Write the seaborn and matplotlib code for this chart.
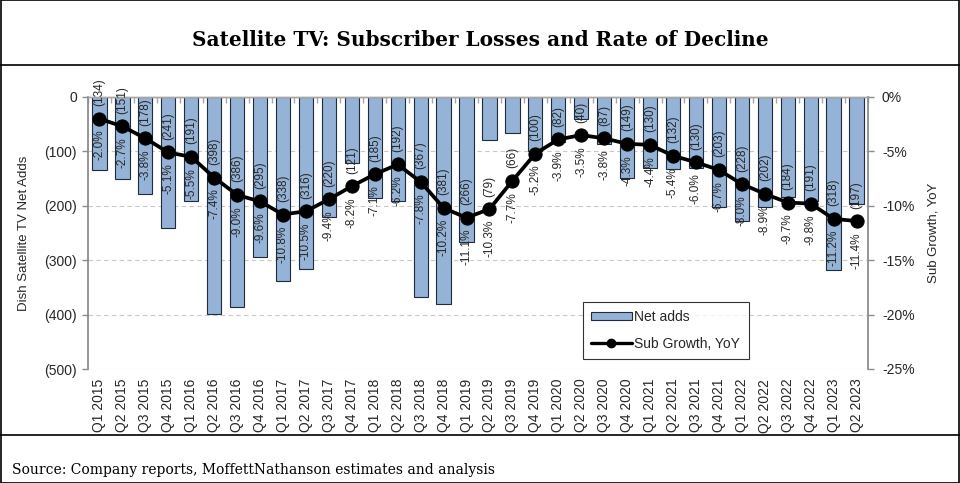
import numpy as np
import pandas as pd
import matplotlib
matplotlib.use("Agg")
import matplotlib.pyplot as plt
from matplotlib.patches import Patch, Rectangle
from matplotlib.lines import Line2D
from matplotlib.ticker import FuncFormatter, MultipleLocator
import seaborn as sns

quarters = ["Q1 2015", "Q2 2015", "Q3 2015", "Q4 2015",
            "Q1 2016", "Q2 2016", "Q3 2016", "Q4 2016",
            "Q1 2017", "Q2 2017", "Q3 2017", "Q4 2017",
            "Q1 2018", "Q2 2018", "Q3 2018", "Q4 2018",
            "Q1 2019", "Q2 2019", "Q3 2019", "Q4 2019",
            "Q1 2020", "Q2 2020", "Q3 2020", "Q4 2020",
            "Q1 2021", "Q2 2021", "Q3 2021", "Q4 2021",
            "Q1 2022", "Q2 2022", "Q3 2022", "Q4 2022",
            "Q1 2023", "Q2 2023"]
net_adds = [-134, -151, -178, -241,
            -191, -398, -386, -295,
            -338, -316, -220, -121,
            -185, -192, -367, -381,
            -266, -79, -66, -100,
            -82, -40, -87, -149,
            -130, -132, -130, -203,
            -228, -202, -184, -191,
            -318, -197]
sub_growth = [-2.0, -2.7, -3.8, -5.1,
              -5.5, -7.4, -9.0, -9.6,
              -10.8, -10.5, -9.4, -8.2,
              -7.1, -6.2, -7.8, -10.2,
              -11.1, -10.3, -7.7, -5.2,
              -3.9, -3.5, -3.8, -4.3,
              -4.4, -5.4, -6.0, -6.7,
              -8.0, -8.9, -9.7, -9.8,
              -11.2, -11.4]

title = "Satellite TV: Subscriber Losses and Rate of Decline"
source = "Source: Company reports, MoffettNathanson estimates and analysis"

sns.set_style("white")
plt.rcParams["font.family"] = ["Liberation Sans", "DejaVu Sans"]

BAR_COLOR = "#95B3D7"
TXT = "#262626"
SPINE = "#8C8C8C"

W, H = 960, 483
fig = plt.figure(figsize=(W / 100, H / 100), dpi=100)

def fx(px):
    return px / W

def fy(py):
    return 1 - py / H

ax = fig.add_axes([fx(88), fy(369), fx(868) - fx(88), fy(97) - fy(369)])
ax2 = ax.twinx()

df = pd.DataFrame({"quarter": quarters, "net": net_adds, "growth": sub_growth})
df["idx"] = np.arange(len(df))

sns.barplot(data=df, x="quarter", y="net", color=BAR_COLOR, saturation=1,
            width=0.62, edgecolor="#1F2A3A", linewidth=0.8, ax=ax, zorder=2)
sns.lineplot(data=df, x="idx", y="growth", color="black", linewidth=2.7,
             marker="o", markersize=9.5, markeredgecolor="black", ax=ax2,
             zorder=5, legend=False)

n = len(quarters)
ax.set_xlim(-0.5, n - 0.5)
ax2.set_xlim(-0.5, n - 0.5)
ax.set_ylim(-500, 0)
ax2.set_ylim(-25, 0)

# labels above/below markers
for i, (v, g) in enumerate(zip(net_adds, sub_growth)):
    ax2.annotate(f"({abs(v):.0f})", xy=(i, g), xytext=(0, 9),
                 textcoords="offset points", rotation=90, ha="center",
                 va="bottom", fontsize=8.5, color=TXT, zorder=3)
    ax2.annotate(f"{g:.1f}%", xy=(i, g), xytext=(0, -8),
                 textcoords="offset points", rotation=90, ha="center",
                 va="top", fontsize=8.5, color=TXT, zorder=3)

# left axis
ax.yaxis.set_major_locator(MultipleLocator(100))
ax.yaxis.set_major_formatter(FuncFormatter(
    lambda v, p: "0" if abs(v) < 1e-9 else f"({abs(v):.0f})"))
ax.tick_params(axis="y", which="major", left=True, length=4, width=1,
               color=SPINE, direction="out", pad=4, labelsize=10,
               labelcolor=TXT)
ax.set_ylabel("Dish Satellite TV Net Adds", fontsize=9.5, color=TXT)
ax.yaxis.set_label_coords((30 - 88) / 780, 0.5)

# right axis
ax2.yaxis.set_major_locator(MultipleLocator(5))
ax2.yaxis.set_major_formatter(FuncFormatter(lambda v, p: f"{v:.0f}%"))
ax2.tick_params(axis="y", which="major", right=True, length=4, width=1,
                color=SPINE, direction="out", pad=6, labelsize=10,
                labelcolor=TXT)
ax2.set_ylabel("Sub Growth, YoY", fontsize=9.5, color=TXT, rotation=90)
ax2.yaxis.set_label_coords((928 - 88) / 780, 0.5)

# x axis: labels at bottom, tick marks between categories along the top
ax.set_xlabel("")
ax.set_xticks(np.arange(n))
ax.set_xticklabels(quarters, rotation=90, fontsize=10, color=TXT)
ax.tick_params(axis="x", which="major", bottom=False, top=False, length=0,
               pad=7)
ax.set_xticks(np.arange(-0.5, n), minor=True)
ax.tick_params(axis="x", which="minor", top=True, bottom=False,
               direction="in", length=4, width=1, color="#A6A6A6")
ax2.tick_params(axis="x", which="both", top=False, bottom=False)

# grid
ax.grid(axis="y", linestyle=(0, (4, 3)), color="#C8C8C8", linewidth=0.8,
        zorder=0)
ax.grid(axis="x", visible=False)
ax2.grid(False)
ax.set_axisbelow(True)

for a in (ax, ax2):
    a.spines["bottom"].set_visible(False)
    a.spines["top"].set_color("#A6A6A6")
    a.spines["top"].set_linewidth(1.0)
    a.spines["left"].set_color(SPINE)
    a.spines["left"].set_linewidth(1.3)
    a.spines["right"].set_color(SPINE)
    a.spines["right"].set_linewidth(1.3)
ax.spines["right"].set_visible(False)
ax2.spines["left"].set_visible(False)

# legend
handles = [Patch(facecolor=BAR_COLOR, edgecolor="#1F2A3A", linewidth=0.8),
           Line2D([0], [0], color="black", linewidth=2.4, marker="o",
                  markersize=6)]
leg = ax2.legend(handles, ["Net adds", "Sub Growth, YoY"],
                 loc="upper left", bbox_to_anchor=(fx(583), fy(302)),
                 bbox_transform=fig.transFigure, frameon=True,
                 fancybox=False, fontsize=10, handlelength=2.9,
                 handleheight=0.5, handletextpad=0.2, borderpad=0.6,
                 labelspacing=0.9, borderaxespad=0)
leg.get_frame().set_edgecolor("black")
leg.get_frame().set_linewidth(0.8)
for t in leg.get_texts():
    t.set_color(TXT)
leg.set_zorder(10)

# figure frame, header and footer
fig.patches.append(Rectangle((0.001, 0.001), 0.998, 0.998,
                             transform=fig.transFigure, fill=False,
                             edgecolor="black", linewidth=1.2))
fig.add_artist(Line2D([0, 1], [fy(65), fy(65)], transform=fig.transFigure,
                      color="black", linewidth=1.2))
fig.add_artist(Line2D([0, 1], [fy(435), fy(435)], transform=fig.transFigure,
                      color="black", linewidth=1.2))
fig.text(0.5, fy(40), title, ha="center", va="center", fontsize=14.4,
         fontweight="bold", family=["DejaVu Serif"], color="black")
fig.text(fx(12), fy(470), source, ha="left", va="center", fontsize=10,
         family=["DejaVu Serif"], color="black")

fig.savefig("out.png", dpi=100)
